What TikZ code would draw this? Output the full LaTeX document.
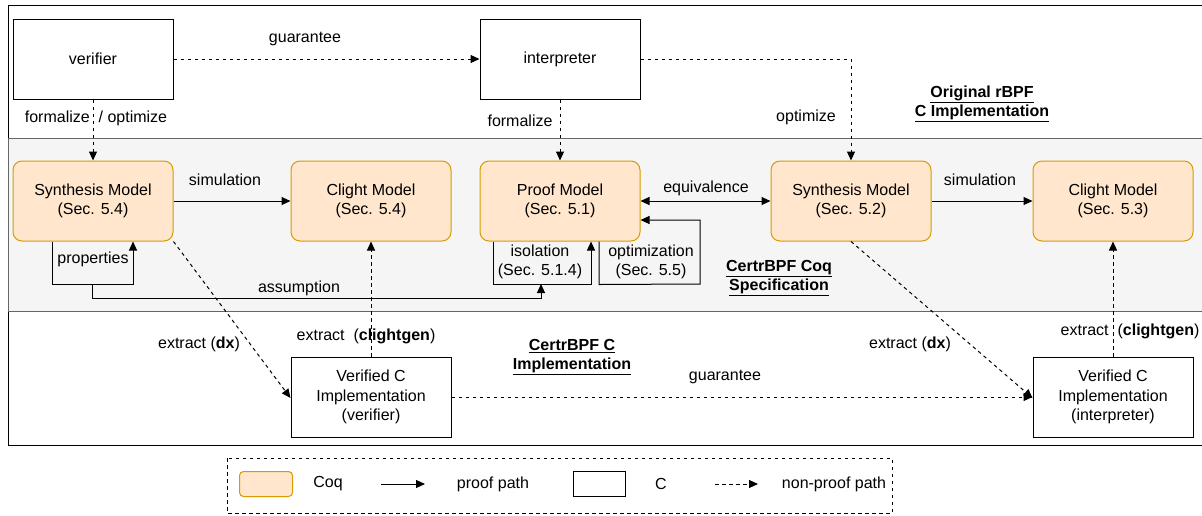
\documentclass[tikz,border=0pt]{standalone}
\usepackage{fontspec}
\setmainfont{Liberation Sans}
\usetikzlibrary{arrows.meta,positioning,calc}
\definecolor{coqfill}{HTML}{FFE6CC}
\definecolor{coqline}{HTML}{D79B00}
\definecolor{bandfill}{HTML}{F5F5F5}
\definecolor{bandline}{HTML}{666666}

\begin{document}
\begin{tikzpicture}[x=1pt, y=-1pt,
	font=\fontsize{16}{19.5}\selectfont,
	coq/.style = {draw=coqline, fill=coqfill, rounded corners=9pt,
                   minimum width=160pt, minimum height=80pt,
                   align=center, line width=1pt},
	cbox/.style = {draw, fill=white, minimum width=160pt,
                   minimum height=80pt, align=center, line width=1pt},
	proof/.style = {-{Triangle[length=9pt,width=8pt]}, line width=1pt},
	nonproof/.style = {proof, dash pattern=on 3.5pt off 3.5pt},
	band title/.style = {font=\fontsize{16}{19.5}\selectfont\bfseries, align=center}
                   ]
\useasboundingbox (0,0) rectangle (1202,515);

% bands
\draw[line width=1pt] (8,5) rectangle (1210,445);
\filldraw[fill=bandfill, draw=bandline, line width=1pt] (8,138) rectangle (1210,311);
\node[band title] (torig) at (982,104) {\underline{Original rBPF}\\ \underline{C Implementation}};
\node[band title] (tcoq) at (779,278) {\underline{CertrBPF Coq}\\ \underline{Specification}};
\node[band title] (tc) at (572,357) {\underline{CertrBPF C}\\ \underline{Implementation}};

% boxes
\node[cbox] (verif) at (93,59) {verifier};
\node[cbox] (interp) at (560,59) {interpreter};
\node[coq] (synA) at (93,201) {Synthesis Model\\(Sec. 5.4)};
\node[coq] (cliA) at (371,201) {Clight Model\\(Sec. 5.4)};
\node[coq] (proofm) at (560,201) {Proof Model\\(Sec. 5.1)};
\node[coq] (synB) at (851,201) {Synthesis Model\\(Sec. 5.2)};
\node[coq] (cliB) at (1113,201) {Clight Model\\(Sec. 5.3)};
\node[cbox] (vcA) at (371,397) {Verified C\\Implementation\\(verifier)};
\node[cbox] (vcB) at (1113,397) {Verified C\\Implementation\\(interpreter)};

% top band
\draw[nonproof] (verif) -- (interp);
\node at (305,39) {guarantee};
\draw[nonproof] (interp.east) -| (synB.north);
\node at (806,117) {optimize};
\draw[nonproof] (verif) -- (synA);
\node at (96,118) {formalize~~/ optimize};
\draw[nonproof] (interp) -- (proofm);
\node at (520,121) {formalize};

% coq band
\draw[proof] (synA) -- (cliA);
\node at (225,180) {simulation};
\draw[proof] (synB) -- (cliB);
\node at (980,180) {simulation};
\draw[{Triangle[length=9pt,width=8pt]}-{Triangle[length=9pt,width=8pt]}, line width=1pt]
	(proofm) -- (synB);
\node at (706,188) {equivalence};
\draw[proof] ([xshift=-41pt]synA.south) -- ++(0,43) coordinate (propbot)
	-| ([xshift=40pt]synA.south);
\node at (93,259) {properties};
\draw[proof] ([xshift=-67pt]proofm.south) -- ++(0,43) coordinate (isobot)
	-| ([xshift=31pt]proofm.south);
\node[align=center] at (540,262) {isolation\\(Sec. 5.1.4)};
\draw[proof] ([xshift=39pt]proofm.south) -- ++(0,43) -- (700,284)
	|- ([yshift=-19pt]proofm.east);
\node[align=center] at (651,262) {optimization\\(Sec. 5.5)};
\coordinate (asmA) at (92,284);
\coordinate (asmB) at (541,284);
\draw[proof] (asmA) -- (92,298) -| (asmB);
\node at (299,288) {assumption};

% c band
\draw[nonproof] (synA.south east) -- ([yshift=-1pt]vcA.west);
\node at (199,344) {extract (\textbf{dx})};
\draw[nonproof] (vcA) -- (cliA);
\node at (366,336) {extract~~(\textbf{clightgen})};
\draw[nonproof] (synB.south) -- ([yshift=-1pt]vcB.west);
\node at (910,344) {extract (\textbf{dx})};
\draw[nonproof] (vcB) -- (cliB);
\node at (1130,331) {extract~~(\textbf{clightgen})};
\draw[nonproof] (vcA) -- (vcB);
\node at (725,377) {guarantee};

% legend
\draw[dash pattern=on 3.5pt off 3.5pt, line width=1pt] (227,458) rectangle (892,513);
\node[coq, minimum width=53pt, minimum height=25pt, rounded corners=4pt] (lcoq) at (266,484) {};
\node at (328,484) {Coq};
\coordinate (lpa) at (381,484);
\coordinate (lpb) at (425,484);
\draw[proof] (lpa) -- (lpb);
\node at (493,484) {proof path};
\node[cbox, minimum width=52pt, minimum height=25pt] (lc) at (599,484) {};
\node at (661,484) {C};
\coordinate (lna) at (715,484);
\coordinate (lnb) at (758,484);
\draw[nonproof] (lna) -- (lnb);
\node at (834,484) {non-proof path};
\end{tikzpicture}
\end{document}
